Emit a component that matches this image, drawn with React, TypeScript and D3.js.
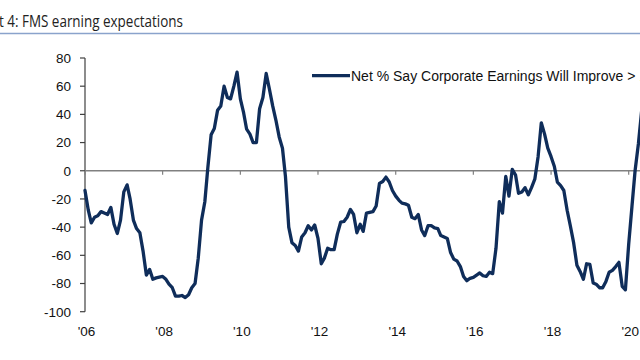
import * as d3 from 'd3';

const START_MONTH = new Date(2006, 0, 1);

// Net % say corporate earnings will improve, monthly from Jan 2006
const netImprove = [
  -14, -28, -37, -33, -32, -29, -30, -31, -26, -38,
  -44.5, -35, -15, -10, -20, -35, -41, -44, -57, -74,
  -70, -77, -76, -75.5, -75, -77, -80.5, -83, -89, -89,
  -88.5, -90, -88, -83, -80, -62, -35, -22, 2, 25.5,
  30, 43, 46, 60, 52, 51, 60, 70, 51, 41,
  29.5, 26, 20, 20, 44, 52, 69, 58, 46, 36,
  24, 16, -4, -40, -51, -53, -57, -47, -44, -39,
  -42, -38.5, -48, -66, -62, -55, -56, -56, -45, -36.5,
  -36, -33, -27.5, -31, -44, -38, -43, -30, -29.5, -29,
  -25, -9, -7.6, -4.5, -8, -14, -18, -21, -23, -23.5,
  -24.5, -33, -34, -31, -42, -46, -39, -39, -40.6, -41,
  -46, -47, -48, -58, -62.7, -64, -68, -75, -78, -76.3,
  -75.6, -74, -72.5, -74.5, -75, -72, -73, -55, -22, -30,
  -4, -18, 1, -3, -16, -15, -12, -17, -12, -6,
  10, 34, 26, 16, 10, 3, -8, -10.5, -14, -28,
  -39, -51, -67, -71.4, -77, -66, -66.5, -79.6, -80.5, -83,
  -83, -78.5, -72, -70.7, -68, -65, -82, -84.5, -52, -25,
  0, 19, 42,
];

const yTicks = [80, 60, 40, 20, 0, -20, -40, -60, -80, -100];
const xTickYears = [2006, 2008, 2010, 2012, 2014, 2016, 2018, 2020];

const TITLE = 't 4: FMS earning expectations';
const LEGEND = 'Net % Say Corporate Earnings Will Improve > 12m';

const W = 640;
const H = 360;
const LINE_COLOR = '#0f2d5a';

export default function App() {
  const x = d3.scaleTime()
    .domain([new Date(2006, 0, 1), new Date(2020, 0, 1)])
    .range([85, 628.7]);
  const y = d3.scaleLinear().domain([-100, 80]).range([311.7, 58]);

  const points = netImprove.map((v, i) => ({ date: d3.timeMonth.offset(START_MONTH, i), v }));
  const line = d3.line<{ date: Date; v: number }>()
    .x(d => x(d.date))
    .y(d => y(d.v));

  const x0 = x.range()[0];
  const font = '"Liberation Sans", Arial, sans-serif';

  return (
    <div style={{ position: 'absolute', left: 0, top: 0, width: W, height: H, background: 'white' }}>
      <svg width={W} height={H} style={{ display: 'block', fontFamily: font }}>
        {/* Title */}
        <text x={-1} y={26.5} fontSize={16.5} fill="#222" fontFamily='"Open Sans", sans-serif'
          textLength={184} lengthAdjust="spacingAndGlyphs">
          {TITLE}
        </text>
        <line x1={0} x2={W} y1={33.5} y2={33.5} stroke="#8aa3cc" strokeWidth={1.5} />

        {/* Y axis */}
        <line x1={x0} x2={x0} y1={y(80)} y2={y(-100)} stroke="#404040" strokeWidth={1.2} />
        {yTicks.map(t => (
          <g key={t}>
            <line x1={x0 - 5} x2={x0} y1={y(t)} y2={y(t)} stroke="#404040" strokeWidth={1.2} />
            <text x={x0 - 14} y={y(t) + 4.8} fontSize={13.5} textAnchor="end" fill="#111">
              {t}
            </text>
          </g>
        ))}

        {/* Zero line with year ticks */}
        <line x1={x0} x2={W} y1={y(0)} y2={y(0)} stroke="#808080" strokeWidth={1.3} />
        {xTickYears.map(yr => {
          const px = x(new Date(yr, 0, 1));
          return (
            <g key={yr}>
              <line x1={px} x2={px} y1={y(0)} y2={y(0) + 4} stroke="#808080" strokeWidth={1.2} />
              <text x={px + 1.5} y={335.5} fontSize={13.5} textAnchor="middle" fill="#111">
                {`'${String(yr).slice(2)}`}
              </text>
            </g>
          );
        })}

        {/* Series */}
        <path d={line(points) ?? ''} fill="none" stroke={LINE_COLOR} strokeWidth={3.3}
          strokeLinejoin="round" strokeLinecap="round" />

        {/* Legend */}
        <line x1={312} x2={350} y1={75.7} y2={75.7} stroke={LINE_COLOR} strokeWidth={3.3} />
        <text x={351} y={80.5} fontSize={14} fill="#111">{LEGEND}</text>
      </svg>
    </div>
  );
}
